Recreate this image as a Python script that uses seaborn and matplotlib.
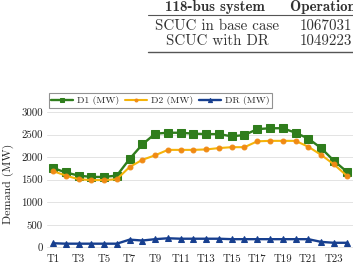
import matplotlib
matplotlib.use("Agg")
import matplotlib.pyplot as plt
import seaborn as sns
import pandas as pd

hours = [f"T{i}" for i in range(1, 25)]
d1 = [1760, 1660, 1590, 1560, 1560, 1590, 1960, 2280, 2520, 2540, 2540, 2520,
      2510, 2510, 2460, 2490, 2620, 2640, 2640, 2540, 2410, 2200, 1920, 1680]
d2 = [1690, 1590, 1510, 1490, 1490, 1510, 1780, 1940, 2040, 2160, 2160, 2160,
      2170, 2200, 2220, 2220, 2350, 2360, 2360, 2360, 2230, 2050, 1840, 1590]
dr = [90, 80, 80, 80, 80, 80, 170, 150, 180, 200, 190, 190,
      190, 190, 180, 180, 180, 180, 180, 180, 180, 120, 100, 100]

table_rows = ["SCUC in base case", "SCUC with DR"]
table_costs = ["1067031", "1049223"]

df = pd.DataFrame({"hour": list(range(1, 25)), "D1 (MW)": d1, "D2 (MW)": d2, "DR (MW)": dr})
long = df.melt(id_vars="hour", var_name="series", value_name="val")

sns.set_style("white")
plt.rcParams['font.family'] = ['cmr10', 'DejaVu Serif']
plt.rcParams['axes.unicode_minus'] = False
plt.rcParams['mathtext.fontset'] = 'cm'

fig = plt.figure(figsize=(3.53, 2.65), dpi=100)
ax = fig.add_axes([47 / 353, 15 / 265, 306 / 353, 138 / 265])

styles = {
    "D1 (MW)": dict(color="#2f7d1c", marker="s", ms=5.5, mfc="#2f7d1c", mec="#2f7d1c", lw=1.7),
    "D2 (MW)": dict(color="#f5b40a", marker="o", ms=3.5, mfc="#f08a14", mec="#f08a14", lw=1.5),
    "DR (MW)": dict(color="#173f8f", marker="^", ms=5, mfc="#173f8f", mec="#173f8f", lw=1.7),
}
for name, st in styles.items():
    sub = long[long["series"] == name]
    sns.lineplot(data=sub, x="hour", y="val", ax=ax, label=name, color=st["color"],
                 marker=st["marker"], markersize=st["ms"], markerfacecolor=st["mfc"],
                 markeredgecolor=st["mec"], linewidth=st["lw"])

ax.set_xlim(0.53, 24.5)
ax.set_ylim(-60, 3000)
ax.set_yticks([0, 500, 1000, 1500, 2000, 2500, 3000])
ax.set_xticks(list(range(1, 25, 2)))
ax.set_xticklabels(hours[::2])
ax.tick_params(axis="both", length=0, labelsize=7.8, colors="#222222", pad=3)
ax.yaxis.grid(True, color="#e3e3e3", lw=0.7)
ax.xaxis.grid(False)
for s in ax.spines.values():
    s.set_visible(False)
ax.set_xlabel("")
ax.set_ylabel("Demand (MW)", fontsize=8.6, color="#222222")
ax.yaxis.set_label_coords(-0.108, 0.48)

leg = ax.legend(loc="lower left", bbox_to_anchor=(0.005, 1.03), ncol=3, fontsize=7,
                frameon=True, fancybox=False, edgecolor="#777777", handlelength=2.2,
                columnspacing=0.6, handletextpad=0.45, borderpad=0.3, borderaxespad=0,
                markerscale=0.6)
leg.get_frame().set_linewidth(0.8)

# table fragment at top
tc = "#333333"
fs = 10.8
fig.text(215 / 353, 1 - 7 / 265, "118-bus system", family=['cmb10', 'DejaVu Serif'], fontsize=fs,
         ha="center", va="center", color=tc)
fig.text(290 / 353, 1 - 7 / 265, "Operation cost", family=['cmb10', 'DejaVu Serif'], fontsize=fs,
         ha="left", va="center", color=tc)
for i, (r, c) in enumerate(zip(table_rows, table_costs)):
    y = 1 - (26 + i * 15) / 265
    fig.text(217 / 353, y, r, fontsize=fs, ha="center", va="center", color=tc)
    fig.text(300 / 353, y, c, fontsize=fs, ha="left", va="center", color=tc)
fig.add_artist(plt.Line2D([148 / 353, 1], [1 - 15 / 265] * 2, color="#555555", lw=0.8))
fig.add_artist(plt.Line2D([148 / 353, 1], [1 - 52 / 265] * 2, color="#555555", lw=1.0))

fig.savefig("out.png", dpi=100)
